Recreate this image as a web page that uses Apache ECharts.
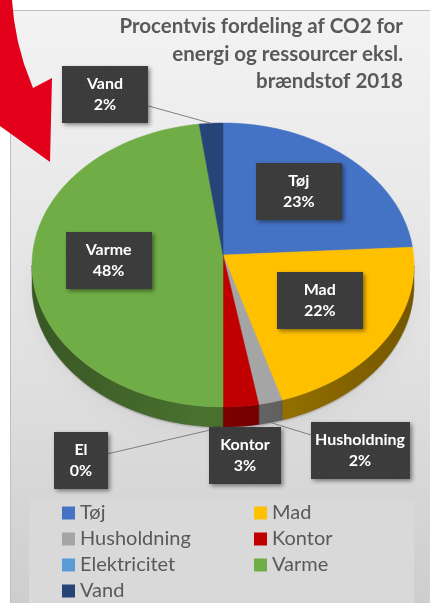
<!DOCTYPE html>
<html>
<head>
<meta charset="utf-8">
<script src="https://cdn.jsdelivr.net/npm/echarts@6/dist/echarts.min.js"></script>
<style>
html, body { margin: 0; padding: 0; background: #fff; }
#main { width: 430px; height: 603px; }
</style>
</head>
<body>
<div id="main"></div>
<script>
// data
const categories = ['Tøj', 'Mad', 'Husholdning', 'Kontor', 'Elektricitet', 'Varme', 'Vand'];
const labelNames = ['Tøj', 'Mad', 'Husholdning', 'Kontor', 'El', 'Varme', 'Vand'];
const values = [23, 22, 2, 3, 0, 48, 2];
const colors = ['#4472C4', '#FFC000', '#A5A5A5', '#C00000', '#5B9BD5', '#70AD47', '#264478'];
const titleLines = ['Procentvis fordeling af CO2 for', 'energi og ressourcer eksl.', 'brændstof 2018'];

const total = values.reduce((a, b) => a + b, 0);
const starts = [];
let acc = 0;
values.forEach(v => { starts.push(acc); acc += v; });

// 3D pie look (Excel style: first slice from 12 o'clock, clockwise)
const pie = { cx: 223, cy: 265, rx: 191, ry: 142, depth: 20, apexDy: -10 };
// small slices get their label box outside, like in the original
const labelBoxes = {
    'Vand': { x: 105, y: 94, w: 86, line: true },
    'Elektricitet': { x: 81, y: 460, w: 54, line: true },
    'Kontor': { x: 245, y: 455, w: 72, line: false },
    'Husholdning': { x: 360, y: 450, w: 99, line: true }
};

function rim(deg, dy) {
    const t = deg * Math.PI / 180;
    return [pie.cx + pie.rx * Math.sin(t), pie.cy - pie.ry * Math.cos(t) + (dy || 0)];
}
function shade(hex, k) {
    const n = parseInt(hex.slice(1), 16);
    return 'rgb(' + Math.round(((n >> 16) & 255) * k) + ',' + Math.round(((n >> 8) & 255) * k) + ',' + Math.round((n & 255) * k) + ')';
}
function arc(a0, a1, dy) {
    const pts = [];
    const n = Math.max(2, Math.ceil((a1 - a0) / 2) + 1);
    for (let k = 0; k < n; k++) pts.push(rim(a0 + (a1 - a0) * k / (n - 1), dy));
    return pts;
}

// dotted texture for the label boxes
const tex = document.createElement('canvas');
tex.width = 9; tex.height = 9;
(function () {
    const c = tex.getContext('2d');
    c.fillStyle = '#3c3c3c'; c.fillRect(0, 0, 9, 9);
    c.fillStyle = '#4f4f4f'; c.fillRect(4, 4, 1, 1);
})();

function renderSlice(params, api) {
    const i = params.seriesIndex;
    const a0 = starts[i] / total * 360;
    const a1 = (starts[i] + values[i]) / total * 360;
    const mid = (a0 + a1) / 2;
    const col = colors[i];
    const children = [];

    if (i === 0) {
        // soft shadow under the pie
        children.push({
            type: 'polygon', z2: 0,
            shape: { points: arc(0, 360, pie.depth + 2) },
            style: { fill: 'rgba(0,0,0,0.12)', shadowBlur: 14, shadowColor: 'rgba(0,0,0,0.35)', shadowOffsetY: 5 }
        });
    }
    // front side of the slice
    const s0 = Math.max(a0, 90), s1 = Math.min(a1, 270);
    if (s1 > s0) {
        const top = arc(s0, s1, 0);
        const bottom = arc(s0, s1, pie.depth).reverse();
        children.push({
            type: 'polygon', z2: 1,
            shape: { points: top.concat(bottom) },
            style: {
                fill: {
                    type: 'linear', x: pie.cx - pie.rx, y: 0, x2: pie.cx + pie.rx, y2: 0, global: true,
                    colorStops: [
                        { offset: 0, color: shade(col, 0.5) },
                        { offset: 0.45, color: shade(col, 0.66) },
                        { offset: 1, color: shade(col, 0.45) }
                    ]
                },
                stroke: shade(col, 0.5), lineWidth: 0.5
            }
        });
    }
    // top face
    if (a1 > a0) {
        children.push({
            type: 'polygon', z2: 2,
            shape: { points: [[pie.cx, pie.cy + pie.apexDy]].concat(arc(a0, a1, 0)) },
            style: { fill: col, stroke: col, lineWidth: 0.5 }
        });
    }
    // label box
    const pct = Math.round(values[i] / total * 100) + '%';
    let bx, by, bw = 86, bh = 57;
    const ob = labelBoxes[categories[i]];
    if (ob) {
        bx = ob.x; by = ob.y; bw = ob.w;
        if (ob.line) {
            const front = mid > 90 && mid < 270;
            const p = rim(mid, front ? pie.depth : 0);
            children.push({
                type: 'line', z2: 3,
                shape: { x1: p[0], y1: p[1], x2: bx, y2: by },
                style: { stroke: '#7f7f7f', lineWidth: 1 }
            });
        }
    } else {
        const t = mid * Math.PI / 180;
        bx = pie.cx + 0.6 * pie.rx * Math.sin(t);
        by = pie.cy + pie.apexDy - 0.6 * pie.ry * Math.cos(t);
    }
    children.push({
        type: 'rect', z2: 4,
        shape: { x: Math.round(bx - bw / 2), y: Math.round(by - bh / 2), width: bw, height: bh },
        style: {
            fill: { image: tex, repeat: 'repeat' },
            shadowBlur: 4, shadowColor: 'rgba(0,0,0,0.45)', shadowOffsetX: 2, shadowOffsetY: 2
        }
    });
    children.push({
        type: 'text', z2: 5,
        x: bx, y: by,
        style: {
            text: labelNames[i] + '\n' + pct,
            fill: '#ffffff', font: 'bold 16px Lato', lineHeight: 21,
            align: 'center', verticalAlign: 'middle'
        }
    });
    return { type: 'group', children: children };
}

const legendText = { fontSize: 20, lineHeight: 20, color: '#595959', fontFamily: 'Lato' };

let option = {
    color: colors,
    animation: false,
    title: {
        text: titleLines.join('\n'),
        left: 403,
        top: 13,
        textAlign: 'right',
        padding: 0,
        textStyle: { fontFamily: 'Lato', fontWeight: 'bold', fontSize: 20.5, lineHeight: 27.5, color: '#595959' }
    },
    graphic: [
        {
            type: 'rect', z: -10,
            shape: { x: 10.5, y: 10.5, width: 430, height: 600 },
            style: {
                fill: {
                    type: 'linear', x: 0, y: 0, x2: 0, y2: 1,
                    colorStops: [{ offset: 0, color: '#f3f3f3' }, { offset: 0.6, color: '#e0e0e0' }, { offset: 1, color: '#cdcdcd' }]
                },
                stroke: '#bfbfbf', lineWidth: 1
            }
        },
        {
            type: 'rect', z: -9,
            shape: { x: 29, y: 501, width: 385, height: 110 },
            style: { fill: '#d9d9d9' }
        },
        {
            // red arrow drawn over the chart in the original picture
            type: 'polygon', z: 100,
            shape: {
                points: [[0, 0], [12, 0], [14, 20], [18, 42], [24, 64], [33, 88], [52, 78], [50, 162], [0, 126]]
            },
            style: { fill: '#e3001b' }
        }
    ],
    legend: [
        {
            orient: 'vertical', left: 62, top: 503, itemGap: 6, padding: 0,
            itemWidth: 13, itemHeight: 13, icon: 'rect',
            textStyle: legendText,
            data: [categories[0], categories[2], categories[4], categories[6]]
        },
        {
            orient: 'vertical', left: 254, top: 503, itemGap: 6, padding: 0,
            itemWidth: 13, itemHeight: 13, icon: 'rect',
            textStyle: legendText,
            data: [categories[1], categories[3], categories[5]]
        }
    ],
    series: categories.map((name, i) => ({
        name: name,
        type: 'custom',
        coordinateSystem: 'none',
        renderItem: renderSlice,
        data: [[values[i]]]
    }))
};

let myChart = echarts.init(document.getElementById('main'));
myChart.setOption(option);
</script>
</body>
</html>
